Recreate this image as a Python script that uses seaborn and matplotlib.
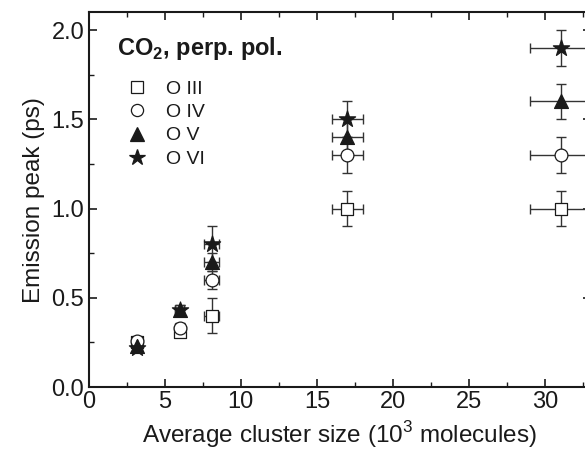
import matplotlib
matplotlib.use("Agg")
import matplotlib.pyplot as plt
import seaborn as sns
import numpy as np
from matplotlib.ticker import MultipleLocator
from matplotlib.lines import Line2D

# ---- data ----
cluster_size = [3.2, 6.0, 8.1, 17.0, 31.0]
cluster_err = [0.3, 0.3, 0.5, 1.0, 2.0]

series_names = ["O III", "O IV", "O V", "O VI"]
o3 = [0.25, 0.31, 0.40, 1.00, 1.00]
o4 = [0.26, 0.33, 0.60, 1.30, 1.30]
o5 = [0.23, 0.43, 0.70, 1.40, 1.60]
o6 = [0.22, 0.43, 0.80, 1.50, 1.90]
o3_err = [0.02, 0.03, 0.10, 0.10, 0.10]
o4_err = [0.02, 0.03, 0.05, 0.10, 0.10]
o5_err = [0.02, 0.03, 0.05, 0.10, 0.10]
o6_err = [0.02, 0.03, 0.10, 0.10, 0.10]

sns.set_theme(style="ticks")
plt.rcParams['font.family'] = ['Liberation Sans', 'DejaVu Sans']
plt.rcParams['mathtext.fontset'] = 'custom'
plt.rcParams['mathtext.rm'] = 'Liberation Sans'
plt.rcParams['mathtext.bf'] = 'Liberation Sans:bold'

fig = plt.figure(figsize=(5.85, 4.49), dpi=100)
ax = fig.add_axes([88.5/585, 1-387/449, 502.5/585, 374.8/449])

styles = [
    dict(marker="s", fc="white", s=70),
    dict(marker="o", fc="white", s=85),
    dict(marker="^", fc="#1a1a1a", s=100),
    dict(marker="*", fc="#1a1a1a", s=150),
]
ys = [o3, o4, o5, o6]
yerrs = [o3_err, o4_err, o5_err, o6_err]

for name, y, ye, st in zip(series_names, ys, yerrs, styles):
    ax.errorbar(cluster_size, y, xerr=cluster_err, yerr=ye, fmt="none",
                ecolor="#333333", elinewidth=1.0, capsize=3.5, capthick=1.0, zorder=2)
    sns.scatterplot(x=cluster_size, y=y, marker=st["marker"], s=st["s"],
                    color=st["fc"], edgecolor="#1a1a1a", linewidth=0.9,
                    ax=ax, zorder=3, legend=False)

ax.set_xlim(0, 33)
ax.set_ylim(0, 2.1)
ax.xaxis.set_major_locator(MultipleLocator(5))
ax.xaxis.set_minor_locator(MultipleLocator(2.5))
ax.yaxis.set_major_locator(MultipleLocator(0.5))
ax.yaxis.set_minor_locator(MultipleLocator(0.25))
ax.yaxis.set_major_formatter(matplotlib.ticker.FormatStrFormatter("%.1f"))
ax.tick_params(which="both", direction="in", top=True, right=True, color="#1a1a1a")
ax.tick_params(which="major", length=6, width=1.2, labelsize=17, labelcolor="#1a1a1a", pad=3)
ax.tick_params(which="minor", length=3.5, width=1.0)
for sp in ax.spines.values():
    sp.set_linewidth(1.5)
    sp.set_color("#1a1a1a")

ax.set_xlabel("Average cluster size (10$^{3}$ molecules)", fontsize=17.5, color="#1a1a1a", labelpad=4)
ax.set_ylabel("Emission peak (ps)", fontsize=17.5, color="#1a1a1a", labelpad=5)

ax.text(0.057, 0.94, r"CO$_\mathbf{2}$, perp. pol.", transform=ax.transAxes,
        fontsize=17, fontweight="bold", color="#1a1a1a", va="top", ha="left")

handles = []
for name, st in zip(series_names, styles):
    handles.append(Line2D([], [], linestyle="none", marker=st["marker"],
                          markerfacecolor=st["fc"], markeredgecolor="#1a1a1a",
                          markersize=np.sqrt(st["s"]) * 0.95, markeredgewidth=0.9, label=name))
ax.legend(handles=handles, loc="upper left", bbox_to_anchor=(0.058, 0.84), frameon=False,
          fontsize=14, handletextpad=0.9, labelspacing=0.3, handlelength=1.2,
          borderaxespad=0, labelcolor="#1a1a1a")

fig.savefig("out.png", dpi=100)
